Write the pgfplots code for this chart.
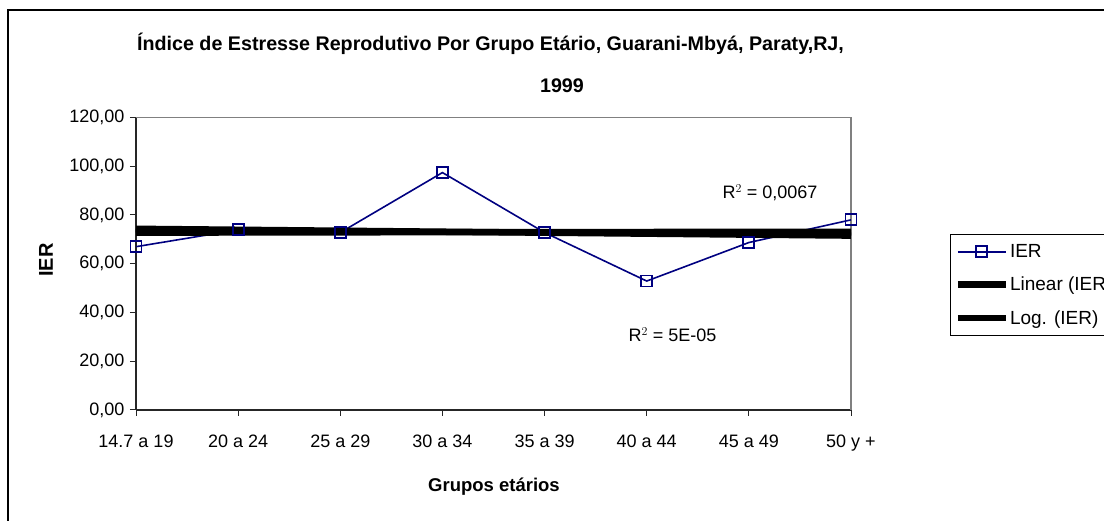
\documentclass[border=0pt]{standalone}
\usepackage{fontspec}
\setmainfont{Liberation Sans}
\usepackage{pgfplots}
\pgfplotsset{compat=1.18}
\definecolor{ierblue}{HTML}{000080}
\pgfplotstableread{
x ier
0 67.0
1 73.9
2 72.8
3 97.4
4 72.8
5 52.9
6 68.7
7 78.0
}\ierdata
\pgfplotstableread{
x lin
0 74.33
7 71.55
}\lindata
\pgfplotstableread{
x lg
0 72.72
1 72.84
2 72.90
3 72.95
4 72.99
5 73.02
6 73.05
7 73.07
}\logdata
\begin{document}
\begin{tikzpicture}[x=1pt,y=1pt]
\clip (0,0) rectangle (1104,521);
\draw[line width=1.3pt] (8,511) rectangle (1130,-30);
\node[font=\fontsize{19.7}{24}\selectfont\bfseries] at (490.5,477.5) {Índice de Estresse Reprodutivo Por Grupo Etário, Guarani-Mbyá, Paraty,RJ,};
\node[font=\fontsize{19.7}{24}\selectfont\bfseries] at (562,435) {1999};
\node[font=\fontsize{18.5}{22}\selectfont\bfseries] at (494,34) {Grupos etários};
\node[font=\fontsize{20}{24}\selectfont\bfseries, rotate=90] at (46,261) {IER};
\begin{axis}[
  at={(136pt,111pt)}, anchor=south west,
  scale only axis, width=715pt, height=292.5pt,
  xmin=0, xmax=7, ymin=0, ymax=120,
  xtick={0,...,7},
  xticklabels={14.7 a 19, 20 a 24, 25 a 29, 30 a 34, 35 a 39, 40 a 44, 45 a 49, 50 y +},
  ytick={0,20,...,120},
  yticklabel style={xshift=-2pt, /pgf/number format/.cd, fixed, fixed zerofill, precision=2, use comma, assume math mode=true},
  axis x line*=bottom, axis y line*=left,
  axis line style={-, black!85, line width=1.2pt},
  tick align=outside, major tick length=6pt,
  tick style={black!85, line width=1pt},
  ticklabel style={font=\fontsize{18}{20}\selectfont},
  xticklabel style={yshift=-15pt},
  clip=false,
  legend cell align=left,
  legend style={at={(axis description cs:1.1385,0.6017)}, anchor=north west,
    draw=black, line width=1pt, font=\fontsize{19}{22}\selectfont,
    inner xsep=4pt, inner ysep=9pt, row sep=16pt,
    nodes={inner sep=1pt}},
  legend image code/.code={\draw[mark repeat=2,mark phase=2,#1] plot coordinates {(0pt,0pt) (24pt,0pt) (48pt,0pt)};},
]
\draw[gray, line width=1.5pt] (axis cs:0,120) -- (axis cs:7,120) -- (axis cs:7,0);
\addplot[ierblue, line width=1.6pt, mark=square, mark size=5.5pt, mark options={line width=1.8pt}] table[x=x,y=ier] {\ierdata};
\addlegendentry{IER}
\addplot[black, line width=6.5pt] table[x=x,y=lin] {\lindata};
\addlegendentry{Linear (IER)}
\addplot[black, line width=6.5pt] table[x=x,y=lg] {\logdata};
\addlegendentry{Log. (IER)}
\addplot[ierblue, only marks, mark=square, mark size=5.5pt, mark options={line width=1.8pt}, forget plot] table[x=x,y=ier] {\ierdata};
\node[font=\fontsize{18}{20}\selectfont] at (axis cs:6.207,89.1) {R$^2$ = 0,0067};
\node[font=\fontsize{18}{20}\selectfont] at (axis cs:5.253,30.8) {R$^2$ = 5E-05};
\end{axis}
\end{tikzpicture}
\end{document}
